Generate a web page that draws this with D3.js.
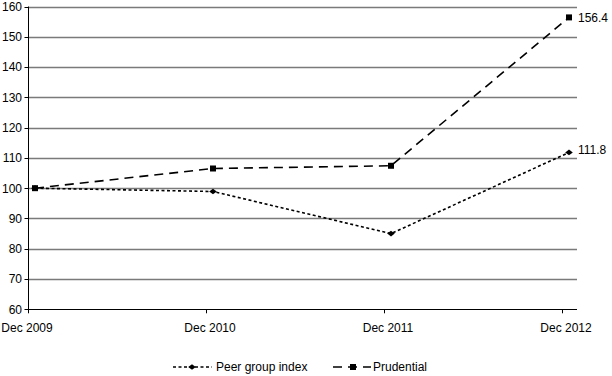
<!DOCTYPE html>
<html><head><meta charset="utf-8">
<script src="https://cdn.jsdelivr.net/npm/d3@7"></script>
<style>body{margin:0;background:#fff}svg text{font-family:"Liberation Sans",Arial,sans-serif;font-size:12px;fill:#000}</style>
</head><body><svg id="c" width="612" height="376"></svg>
<script>
const categories = ["Dec 2009","Dec 2010","Dec 2011","Dec 2012"];
const peerValues = [100, 98.9, 85.0, 111.8];
const prudentialValues = [100, 106.5, 107.4, 156.4];
const yTicks = [60,70,80,90,100,110,120,130,140,150,160];

const svg = d3.select("#c");
const x = d3.scalePoint().domain(categories).range([35, 569]);
const y = d3.scaleLinear().domain([60,160]).range([309.3, 6.5]);
const axisLeft = 28.5, axisRight = 577;

// gridlines
svg.append("g").selectAll("line").data(yTicks.slice(1)).join("line")
  .attr("x1", axisLeft).attr("x2", axisRight)
  .attr("y1", d => Math.round(y(d))+0.5).attr("y2", d => Math.round(y(d))+0.5)
  .attr("stroke", "#7a7a7a").attr("stroke-width", 1.3);

// y axis
const ya = svg.append("g");
ya.append("line").attr("x1", axisLeft).attr("x2", axisLeft).attr("y1", y(160)).attr("y2", y(60)+0.5).attr("stroke","#000");
ya.selectAll("line.t").data(yTicks).join("line").attr("class","t")
  .attr("x1", axisLeft-4).attr("x2", axisLeft).attr("y1", d => Math.round(y(d))+0.5).attr("y2", d => Math.round(y(d))+0.5).attr("stroke","#000");
ya.selectAll("text").data(yTicks).join("text")
  .attr("x", 22).attr("y", d => y(d)).attr("dy","0.36em").attr("text-anchor","end").text(d => d);

// x axis
const xa = svg.append("g");
xa.append("line").attr("x1", axisLeft).attr("x2", axisRight).attr("y1", Math.round(y(60))+0.5).attr("y2", Math.round(y(60))+0.5).attr("stroke","#000");
xa.selectAll("line.t").data(categories).join("line").attr("class","t")
  .attr("x1", d => x(d)-6.5).attr("x2", d => x(d)-6.5).attr("y1", y(60)).attr("y2", y(60)+4).attr("stroke","#000");
xa.selectAll("text").data(categories).join("text")
  .attr("x", (d,i) => x(d) - (i===0 ? 8 : 3)).attr("y", 332).attr("text-anchor","middle").text(d => d);

const line = d3.line().x((d,i) => x(categories[i])).y(d => y(d));

// Peer
svg.append("path").datum(peerValues).attr("d", line).attr("fill","none")
  .attr("stroke","#000").attr("stroke-width",1.6).attr("stroke-dasharray","3,2.5");
// Prudential
svg.append("path").datum(prudentialValues).attr("d", line).attr("fill","none")
  .attr("stroke","#000").attr("stroke-width",1.6).attr("stroke-dasharray","9,6");

const diamond = d3.symbol().type(d3.symbolSquare).size(20);
const square = d3.symbol().type(d3.symbolSquare).size(36);
svg.selectAll("path.pm").data(peerValues).join("path").attr("class","pm")
  .attr("d", diamond).attr("transform",(d,i)=>`translate(${x(categories[i])},${y(d)}) scale(1.2,0.9) rotate(45)`).attr("fill","#000");
svg.selectAll("path.sm").data(prudentialValues).join("path").attr("class","sm")
  .attr("d", square).attr("transform",(d,i)=>`translate(${x(categories[i])},${y(d)})`).attr("fill","#000");

// end labels
svg.append("text").attr("x", 578).attr("y", y(prudentialValues[3])).attr("dy","0.36em").text(prudentialValues[3].toFixed(1));
svg.append("text").attr("x", 578).attr("y", y(peerValues[3])-3).attr("dy","0.36em").text(peerValues[3].toFixed(1));

// legend
const lg = svg.append("g");
lg.append("line").attr("x1",173).attr("x2",212).attr("y1",367).attr("y2",367).attr("stroke","#000").attr("stroke-width",1.6).attr("stroke-dasharray","3,2.5");
lg.append("path").attr("d",diamond).attr("transform","translate(192,367) scale(1.2,0.9) rotate(45)");
lg.append("text").attr("x",216).attr("y",367).attr("dy","0.36em").text("Peer group index");
lg.append("line").attr("x1",333).attr("x2",371).attr("y1",367).attr("y2",367).attr("stroke","#000").attr("stroke-width",1.6).attr("stroke-dasharray","9,6");
lg.append("path").attr("d",square).attr("transform","translate(353,367)");
lg.append("text").attr("x",373).attr("y",367).attr("dy","0.36em").text("Prudential");
</script></body></html>
